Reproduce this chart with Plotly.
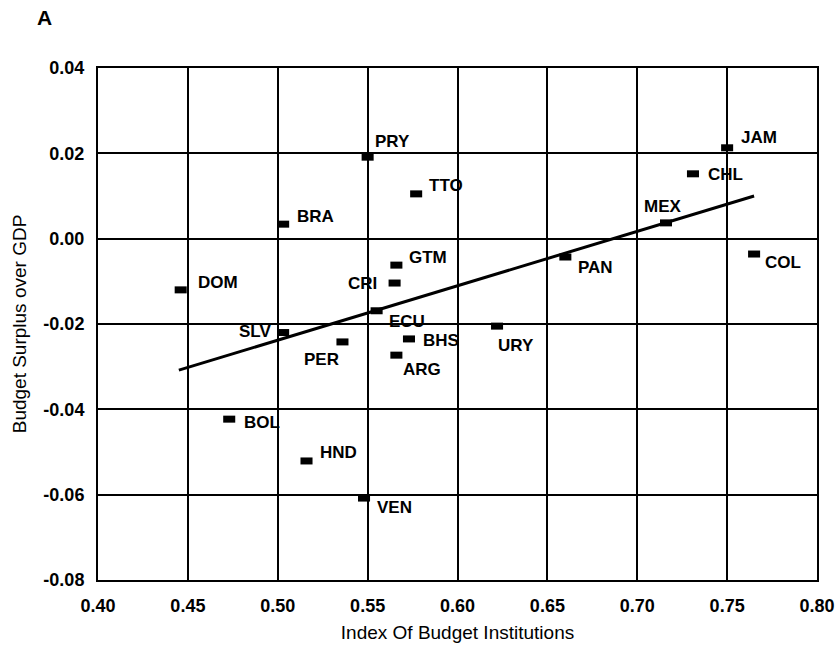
import plotly.graph_objects as go

# ---- data ----
countries = ["DOM", "SLV", "BRA", "PRY", "TTO", "GTM", "CRI", "ECU", "PER", "BHS",
             "ARG", "URY", "HND", "VEN", "BOL", "JAM", "CHL", "MEX", "PAN", "COL"]
budget_index = [0.446, 0.503, 0.503, 0.550, 0.577, 0.566, 0.565, 0.555, 0.536, 0.573,
                0.566, 0.622, 0.516, 0.548, 0.473, 0.750, 0.731, 0.716, 0.660, 0.765]
budget_surplus = [-0.012, -0.022, 0.0034, 0.0191, 0.0105, -0.0062, -0.0104, -0.0169, -0.0242, -0.0235,
                  -0.0273, -0.0205, -0.0521, -0.0608, -0.0423, 0.0213, 0.0152, 0.0037, -0.0043, -0.0036]

fit_x = [0.445, 0.765]
fit_y = [-0.0308, 0.0100]

x_ticks = [0.40, 0.45, 0.50, 0.55, 0.60, 0.65, 0.70, 0.75, 0.80]
x_tick_labels = ["0.40", "0.45", "0.50", "0.55", "0.60", "0.65", "0.70", "0.75", "0.80"]
y_ticks = [-0.08, -0.06, -0.04, -0.02, 0.00, 0.02, 0.04]
y_tick_labels = ["-0.08", "-0.06", "-0.04", "-0.02", "0.00", "0.02", "0.04"]

# label placement (pixel offsets from marker, anchor) - style only
label_style = {
    "PRY": (6, 16, "left"), "TTO": (12, 8, "left"), "BRA": (13, 8, "left"),
    "GTM": (12, 8, "left"), "CRI": (-17, 0, "right"), "ECU": (11, -11, "left"),
    "PER": (-2, -18, "right"), "BHS": (13, -2, "left"), "ARG": (6, -14, "left"),
    "URY": (0, -19, "left"), "HND": (12, 8, "left"), "VEN": (12, -9, "left"),
    "DOM": (16, 7, "left"), "SLV": (-11, 1, "right"), "BOL": (14, -3, "left"),
    "JAM": (13, 10, "left"), "CHL": (14, -1, "left"), "MEX": (-3, 16, "center"),
    "PAN": (12, -10, "left"), "COL": (10, -8, "left"),
}

FONT = "Liberation Sans, Arial, Helvetica, sans-serif"

fig = go.Figure()

fig.add_trace(go.Scatter(
    x=fit_x, y=fit_y, mode="lines",
    line=dict(color="black", width=3),
    showlegend=False, hoverinfo="skip",
))

fig.add_trace(go.Scatter(
    x=budget_index, y=budget_surplus, mode="markers",
    marker=dict(symbol="line-ew", size=8.6, color="black",
                line=dict(color="black", width=7)),
    text=countries, showlegend=False,
))

for c, xv, yv in zip(countries, budget_index, budget_surplus):
    dx, dy, anchor = label_style[c]
    fig.add_annotation(
        x=xv, y=yv, xref="x", yref="y", text=c, showarrow=False,
        xshift=dx, yshift=dy, xanchor=anchor, yanchor="middle",
        borderpad=0,
        font=dict(family=FONT, size=17, color="black", weight="bold"),
    )

fig.add_annotation(
    xref="paper", yref="paper", x=-0.0751, y=1.0977, text="A", showarrow=False,
    xanchor="center", yanchor="middle",
    font=dict(family=FONT, size=21, color="black", weight="bold"),
)

axis_common = dict(
    showgrid=True, gridcolor="black", gridwidth=1.6,
    showline=True, linecolor="black", linewidth=2, mirror=True,
    zeroline=False, ticks="", automargin=False,
    tickfont=dict(family=FONT, size=18, color="black", weight="bold"),
)

fig.update_xaxes(
    range=[0.40, 0.80], tickvals=x_ticks, ticktext=x_tick_labels,
    ticklabelstandoff=8,
    title=dict(text="Index Of Budget Institutions", standoff=11,
               font=dict(family=FONT, size=19, color="black")),
    **axis_common,
)
fig.update_yaxes(
    range=[-0.08, 0.04], tickvals=y_ticks, ticktext=y_tick_labels,
    ticklabelstandoff=8,
    title=dict(text="Budget Surplus over GDP", standoff=12,
               font=dict(family=FONT, size=19, color="black")),
    **axis_common,
)

fig.update_layout(
    width=839, height=651,
    margin=dict(l=98, r=22, t=68, b=71),
    paper_bgcolor="white", plot_bgcolor="white",
    font=dict(family=FONT, color="black"),
    showlegend=False,
)

fig.write_html(
    "out.html",
    config={"displayModeBar": False},
    post_script="document.body.style.margin='0';document.body.style.overflow='hidden';"
                "document.documentElement.style.overflow='hidden';",
)
